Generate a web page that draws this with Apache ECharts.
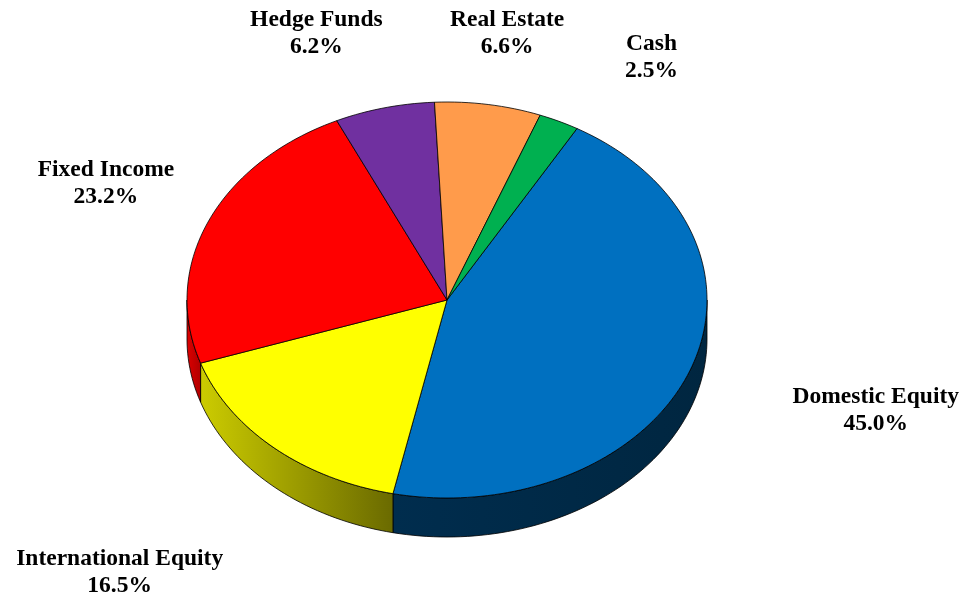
<!DOCTYPE html>
<html>
<head>
<meta charset="utf-8">
<title>Asset Allocation</title>
<script src="https://cdn.jsdelivr.net/npm/echarts@6/dist/echarts.min.js"></script>
<style>
  html, body { margin: 0; padding: 0; background: #fff; }
  #container { width: 966px; height: 599px; }
</style>
</head>
<body>
<div id="container"></div>
<script>
// 数据
var categories = ['Domestic Equity', 'International Equity', 'Fixed Income', 'Hedge Funds', 'Real Estate', 'Cash'];
var shares = [45.0, 16.5, 23.2, 6.2, 6.6, 2.5];

// 颜色 (顶面 / 侧面渐变)
var topColors = ['#0070C0', '#FFFF00', '#FF0000', '#7030A0', '#FF9B4B', '#00B050'];
var sideColors = [['#002D4E', '#002640'], ['#CCCC00', '#6A6A00'], ['#DD0000', '#B00000'], ['#4A1F6B', '#3A1855'], ['#C46A28', '#9A5018'], ['#007A3A', '#005A2A']];

// 标签: 相对椭圆半径的倍数, 角度偏移
var labelDist = [1.74, 1.86, 1.44, 1.44, 1.37, 1.46];
var labelShift = [2.4, -0.9, -1.2, 6.5, -0.6, -7.1];

var startAngle = 60;   // 从 3 点钟方向逆时针算, 顺时针排列

function ellipse() {
  return { cx: 447, cy: 300, rx: 260, ry: 198, depth: 39 };
}

function pt(e, a, dy) {
  var r = a * Math.PI / 180;
  return [e.cx + e.rx * Math.cos(r), e.cy - e.ry * Math.sin(r) + (dy || 0)];
}

function arc(e, a1, a2, dy) {
  // a1 -> a2 按角度取点
  var pts = [];
  var n = Math.max(2, Math.ceil(Math.abs(a2 - a1) / 1.5));
  for (var i = 0; i <= n; i++) {
    pts.push(pt(e, a1 + (a2 - a1) * i / n, dy));
  }
  return pts;
}

// 每块扇形的起止角度
var total = shares.reduce(function (s, v) { return s + v; }, 0);
var sliceData = [];
var acc = startAngle;
shares.forEach(function (v, i) {
  var sweep = v / total * 360;
  sliceData.push([v, acc, acc - sweep, i]);
  acc -= sweep;
});

function renderSide(params, api) {
  var e = ellipse();
  var a1 = api.value(1), a2 = api.value(2), idx = api.value(3);
  // 只画前半圈 (-180 .. 0)
  var hi = Math.min(a1, 0), lo = Math.max(a2, -180);
  if (hi <= lo) return null;
  var top = arc(e, hi, lo, 0);
  var bottom = arc(e, lo, hi, e.depth);
  var pts = top.concat(bottom);
  return {
    type: 'polygon',
    shape: { points: pts },
    style: {
      fill: new echarts.graphic.LinearGradient(0, 0, 1, 0, [
        { offset: 0, color: sideColors[idx][0] },
        { offset: 1, color: sideColors[idx][1] }
      ]),
      stroke: '#000',
      lineWidth: 0.8
    }
  };
}

function renderTop(params, api) {
  var e = ellipse();
  var a1 = api.value(1), a2 = api.value(2), idx = api.value(3);
  var pts = [[e.cx, e.cy]].concat(arc(e, a1, a2, 0));
  var mid = (a1 + a2) / 2 + labelShift[idx];
  var k = labelDist[idx];
  var r = mid * Math.PI / 180;
  return {
    type: 'group',
    children: [{
      type: 'polygon',
      shape: { points: pts },
      style: { fill: topColors[idx], stroke: '#000', lineWidth: 0.8 }
    }, {
      type: 'text',
      x: e.cx + e.rx * k * Math.cos(r),
      y: e.cy - e.ry * k * Math.sin(r) + 1,
      style: {
        text: categories[idx] + '\n' + api.value(0).toFixed(1) + '%',
        align: 'center',
        verticalAlign: 'middle',
        lineHeight: 27,
        fontFamily: '"Liberation Serif", "Times New Roman", serif',
        fontWeight: 'bold',
        fontSize: 23.5,
        fill: '#000'
      }
    }]
  };
}

var dom = document.getElementById('container');
var myChart = echarts.init(dom);
var option = {
  backgroundColor: '#fff',
  animation: false,
  series: [{
    type: 'custom',
    coordinateSystem: 'none',
    renderItem: renderSide,
    data: sliceData,
    z: 1
  }, {
    type: 'custom',
    coordinateSystem: 'none',
    renderItem: renderTop,
    data: sliceData,
    z: 2
  }]
};
myChart.setOption(option);
</script>
</body>
</html>
